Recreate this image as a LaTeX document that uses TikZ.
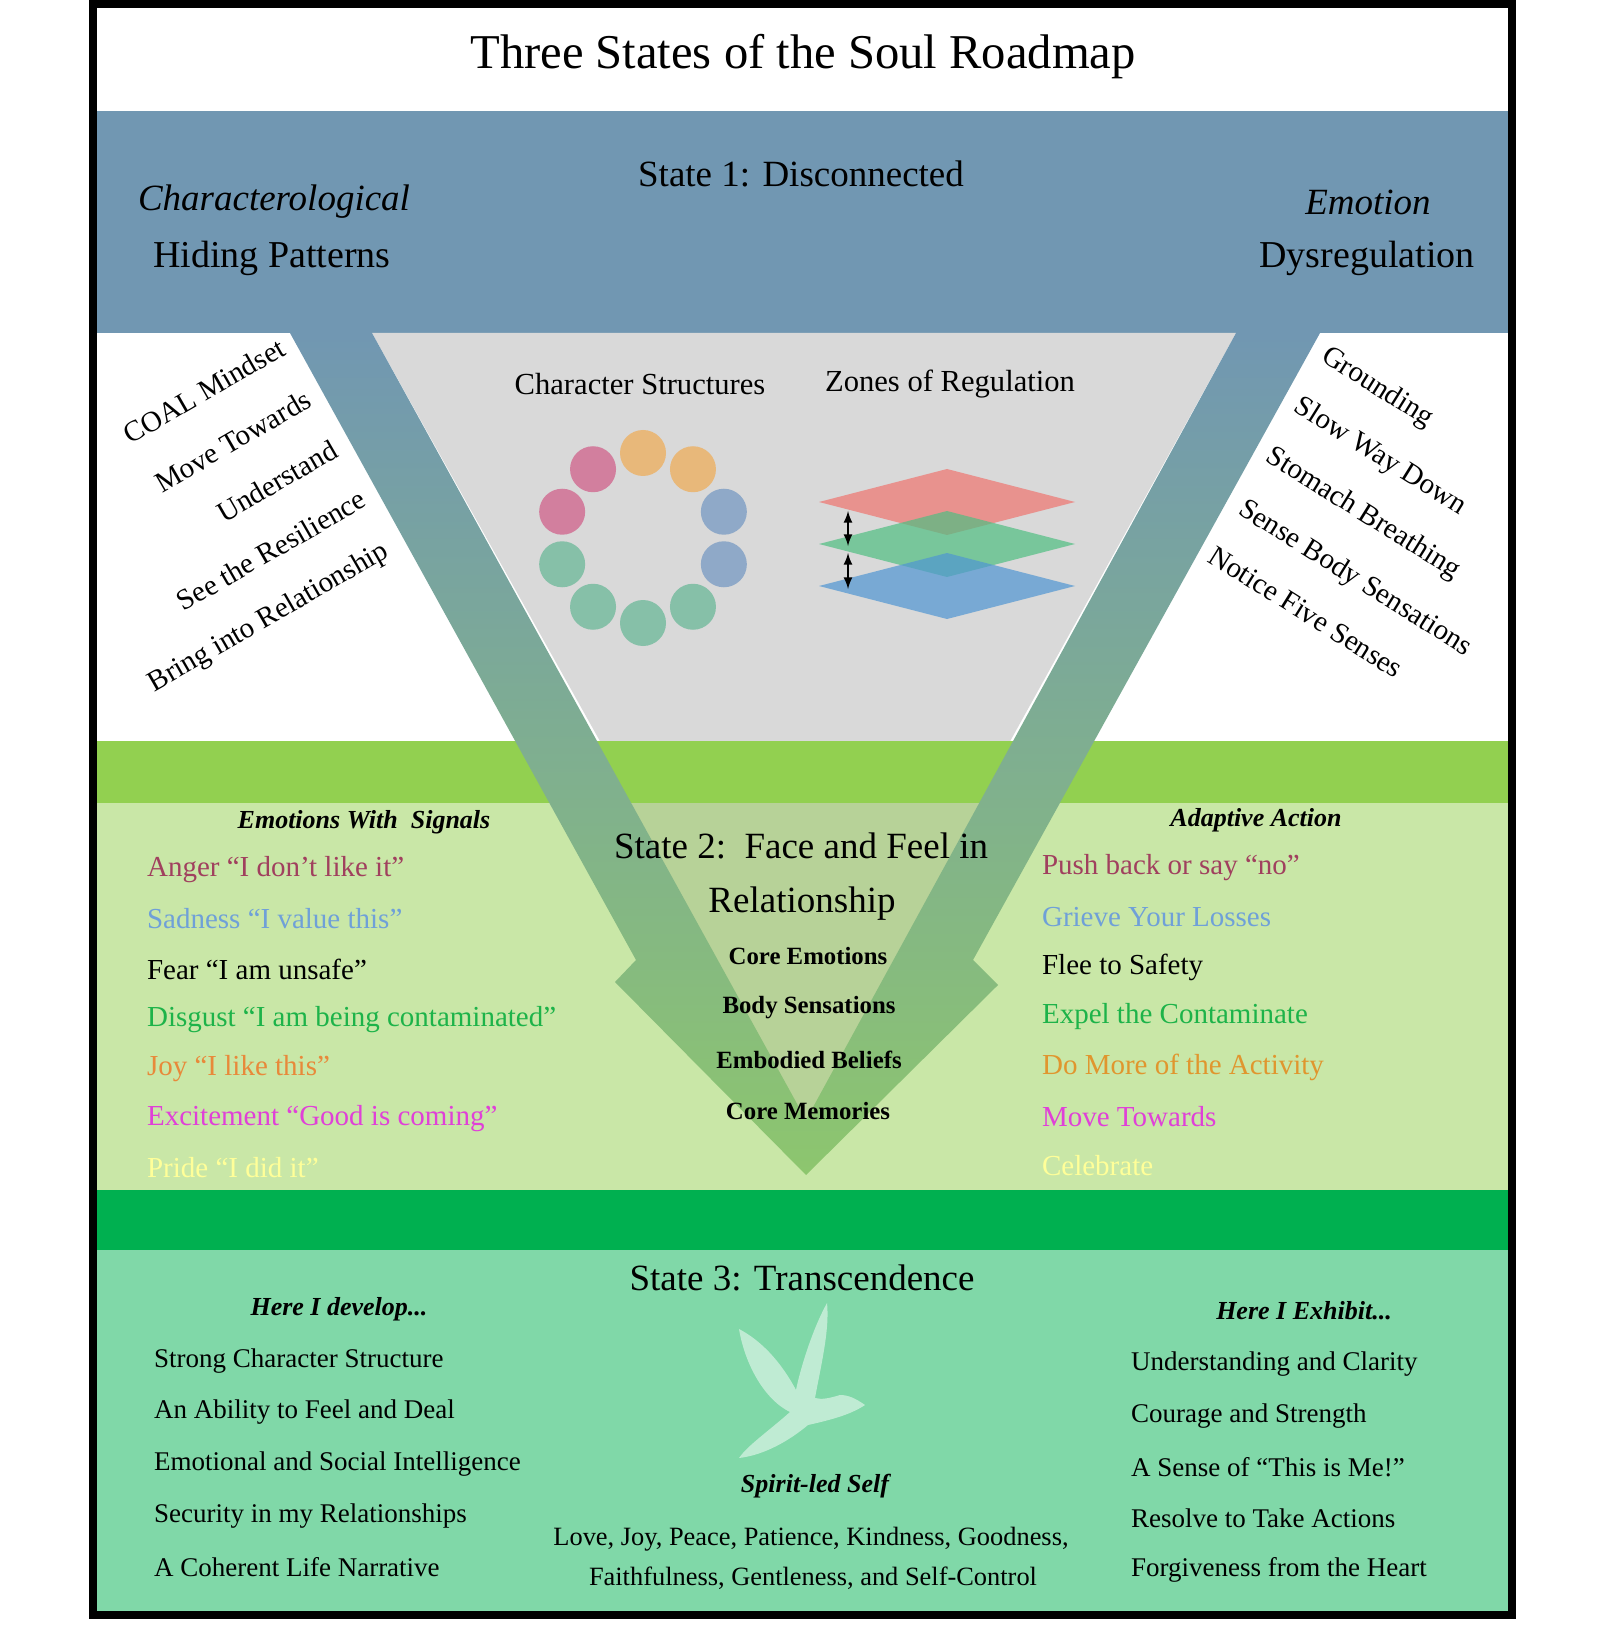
\documentclass[tikz,border=0pt]{standalone}
\usepackage{fontspec}
\setmainfont{Liberation Serif}
\begin{document}
\begin{tikzpicture}[x=0.5pt,y=-0.5pt,
  fs/.style={font=\fontsize{#1}{#1}\selectfont},
  lst/.style={anchor=west,fs=14.5},
  bl/.style={anchor=west,fs=13.5},
  rot/.style={fs=14.5},
  hdr/.style={font=\fontsize{13}{13}\selectfont\bfseries\itshape},
  core/.style={font=\fontsize{12.4}{13}\selectfont\bfseries}]
\definecolor{sblue}{HTML}{7197B2}
\definecolor{bgreen}{HTML}{92D050}
\definecolor{lgreen}{HTML}{C9E7A7}
\definecolor{dgreen}{HTML}{00B050}
\definecolor{teal}{HTML}{80D8A8}
\definecolor{cmaroon}{HTML}{A0405E}
\definecolor{cblue}{HTML}{6FA0D8}
\definecolor{cgreen}{HTML}{1DB349}
\definecolor{corange}{HTML}{E8893A}
\definecolor{cgold}{HTML}{E0962E}
\definecolor{cmag}{HTML}{E040D8}
\definecolor{cyel}{HTML}{FFFF99}
\definecolor{armmid}{HTML}{86B894}
\definecolor{armbot}{HTML}{8DC66E}
\useasboundingbox (0,0) rectangle (1613,1625);
\fill[white] (0,0) rectangle (1613,1625);
% bands
\fill[sblue] (97,111) rectangle (1508,333);
\fill[gray!30] (372,333) -- (1236,333) -- (806,1110) -- cycle;
\fill[bgreen] (97,741) rectangle (1508,803);
\fill[lgreen] (97,803) rectangle (1508,1190);
\fill[dgreen] (97,1190) rectangle (1508,1250);
\fill[teal] (97,1250) rectangle (1508,1611);
\begin{scope}
\clip (97,803) rectangle (1508,1190);
\fill[black!9!lgreen] (372,333) -- (1236,333) -- (806,1160) -- cycle;
\end{scope}
% arms
\path[top color=sblue, middle color=armmid, bottom color=armbot]
  (290,333) -- (636,960) -- (615,982) -- (806,1175) -- (998,985) -- (973,960)
  -- (1320,333) -- (1236,333) -- (806,1120) -- (372,333) -- cycle;
% frame
\draw[line width=4pt] (93,4) rectangle (1512,1615);
% title
\node[fs=24.3] (title) at (803,57) {Three States of the Soul Roadmap};
\node[fs=18.5] (s1) at (801,174) {State 1: Disconnected};
\node[font=\fontsize{18.5}{18.5}\selectfont\itshape] (ch) at (274,202) {Characterological};
\node[fs=19] (hp) at (272,258) {Hiding Patterns};
\node[font=\fontsize{18.5}{18.5}\selectfont\itshape] (em) at (1368,202) {Emotion};
\node[fs=19] (dr) at (1367,258) {Dysregulation};
% rotated lists
\node[rot,rotate=30] (l1) at (204,391) {COAL Mindset};
\node[rot,rotate=30] (l2) at (233,441) {Move Towards};
\node[rot,rotate=30] (l3) at (277,481) {Understand};
\node[rot,rotate=30] (l4) at (271,550) {See the Resilience};
\node[rot,rotate=30] (l5) at (269,618) {Bring into Relationship};
\node[rot,rotate=-32] (r1) at (1377,388) {Grounding};
\node[rot,rotate=-32] (r2) at (1380,457) {Slow Way Down};
\node[rot,rotate=-32] (r3) at (1363,514) {Stomach Breathing};
\node[rot,rotate=-32] (r4) at (1355,579) {Sense Body Sensations};
\node[rot,rotate=-32] (r5) at (1306,612) {Notice Five Senses};
% structures
\node[fs=15.3] (cs) at (640,384) {Character Structures};
\node[fs=15.3] (zr) at (950,384) {Zones of Regulation};
\foreach \a/\c in {90/E8B87A,54/E8B87A,18/8FA9C8,-18/8FA9C8,-54/86C0A8,-90/86C0A8,-126/86C0A8,-162/86C0A8,162/D27F9E,126/D27F9E}{
  \definecolor{tmp}{HTML}{\c}
  \fill[tmp] ({643+85*cos(\a)},{538-85*sin(\a)}) circle[radius=23];
}
\fill[fill={rgb,255:red,232;green,146;blue,142}] (947,469) -- (1075,502) -- (947,535) -- (819,502) -- cycle;
\fill[fill={rgb,255:red,80;green,190;blue,130},opacity=0.7] (947,511) -- (1075,544) -- (947,577) -- (819,544) -- cycle;
\fill[fill={rgb,255:red,80;green,150;blue,210},opacity=0.7] (947,553) -- (1075,586) -- (947,619) -- (819,586) -- cycle;
\coordinate (a1) at (848,511); \coordinate (a2) at (848,546);
\coordinate (a3) at (848,553); \coordinate (a4) at (848,589);
\draw[<->,>=latex,line width=1pt] (a1) -- (a2);
\draw[<->,>=latex,line width=1pt] (a3) -- (a4);
% state 2
\node[hdr] (ews) at (364,822) {Emotions With\ \ Signals};
\node[lst,text=cmaroon] (e1) at (140,870) {Anger “I don’t like it”};
\node[lst,text=cblue] (e2) at (140,919) {Sadness “I value this”};
\node[lst] (e3) at (140,969) {Fear “I am unsafe”};
\node[lst,text=cgreen] (e4) at (140,1020) {Disgust “I am being contaminated”};
\node[lst,text=corange] (e5) at (140,1069) {Joy “I like this”};
\node[lst,text=cmag] (e6) at (140,1119) {Excitement “Good is coming”};
\node[lst,text=cyel] (e7) at (140,1168) {Pride “I did it”};
\node[hdr] (aa) at (1256,820) {Adaptive Action};
\node[lst,text=cmaroon] (p1) at (1035,868) {Push back or say “no”};
\node[lst,text=cblue] (p2) at (1035,917) {Grieve Your Losses};
\node[lst] (p3) at (1035,967) {Flee to Safety};
\node[lst,text=cgreen] (p4) at (1035,1017) {Expel the Contaminate};
\node[lst,text=cgold] (p5) at (1035,1067) {Do More of the Activity};
\node[lst,text=cmag] (p6) at (1035,1117) {Move Towards};
\node[lst,text=cyel] (p7) at (1035,1166) {Celebrate};
\node[fs=18.5] (s2a) at (801,846) {State 2:\ \ Face and Feel in};
\node[fs=18.5] (s2b) at (802,904) {Relationship};
\node[core] (c1) at (808,956) {Core Emotions};
\node[core] (c2) at (809,1008) {Body Sensations};
\node[core] (c3) at (809,1060) {Embodied Beliefs};
\node[core] (c4) at (808,1111) {Core Memories};
% state 3
\node[fs=18.5] (s3) at (802,1278) {State 3: Transcendence};
\node[hdr] (hd) at (339,1309) {Here I develop...};
\node[bl] (d1) at (147,1361) {Strong Character Structure};
\node[bl] (d2) at (147,1412) {An Ability to Feel and Deal};
\node[bl] (d3) at (147,1464) {Emotional and Social Intelligence};
\node[bl] (d4) at (147,1516) {Security in my Relationships};
\node[bl] (d5) at (147,1567) {A Coherent Life Narrative};
\node[hdr] (he) at (1304,1311) {Here I Exhibit...};
\node[bl] (x1) at (1124,1364) {Understanding and Clarity};
\node[bl] (x2) at (1124,1416) {Courage and Strength};
\node[bl] (x3) at (1124,1467) {A Sense of “This is Me!”};
\node[bl] (x4) at (1124,1518) {Resolve to Take Actions};
\node[bl] (x5) at (1124,1570) {Forgiveness from the Heart};
% dove
\fill[white,opacity=0.5] (827,1303) .. controls (812,1330) and (800,1370) .. (796,1390)
  .. controls (780,1360) and (760,1340) .. (739,1329)
  .. controls (745,1365) and (765,1400) .. (790,1412)
  .. controls (770,1430) and (748,1445) .. (739,1458)
  .. controls (765,1455) and (790,1440) .. (808,1425)
  .. controls (830,1420) and (850,1415) .. (865,1405)
  .. controls (855,1398) and (848,1395) .. (840,1395)
  .. controls (830,1398) and (822,1400) .. (815,1398)
  .. controls (820,1370) and (830,1330) .. (827,1303) -- cycle;
\node[hdr] (sl) at (815,1486) {Spirit-led Self};
\node[fs=13.2] (f1) at (811,1539) {Love, Joy, Peace, Patience, Kindness, Goodness,};
\node[fs=13.2] (f2) at (813,1578) {Faithfulness, Gentleness, and Self-Control};
\end{tikzpicture}
\end{document}
